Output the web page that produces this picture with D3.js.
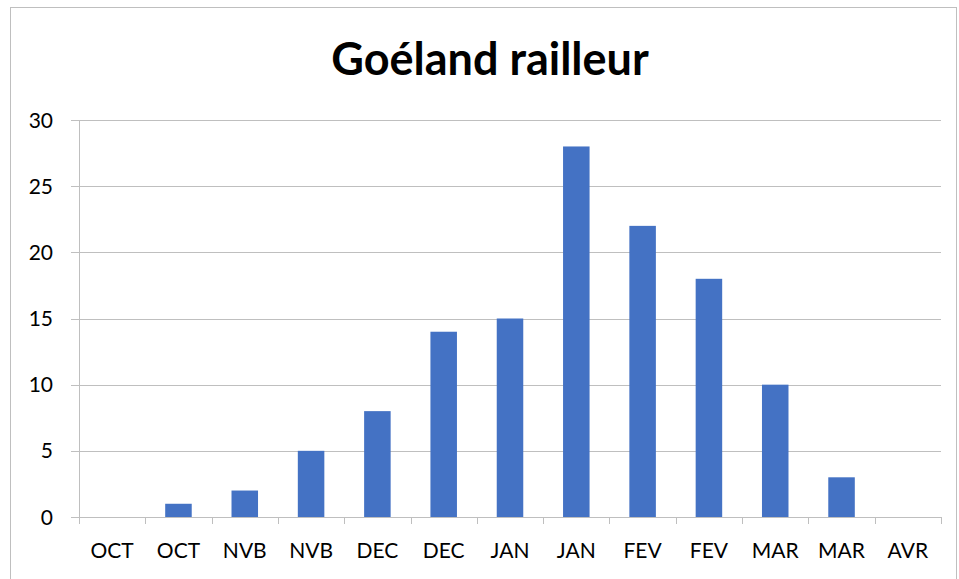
<!DOCTYPE html>
<html><head><meta charset="utf-8">
<script src="https://cdn.jsdelivr.net/npm/d3@7"></script>
<style>body{margin:0;background:#fff}svg{display:block}</style>
</head><body>
<script>
const categories = ["OCT","OCT","NVB","NVB","DEC","DEC","JAN","JAN","FEV","FEV","MAR","MAR","AVR"];
const values = [0,1,2,5,8,14,15,28,22,18,10,3,0];
const yTicks = [0,5,10,15,20,25,30];
const title = "Goéland railleur";

const W = 959, H = 579;
const m = {left:79, right:941, top:120, bottom:517};
const svg = d3.select("body").append("svg").attr("width",W).attr("height",H);
svg.append("rect").attr("x",10.5).attr("y",7.5).attr("width",946).attr("height",580)
  .attr("fill","#fff").attr("stroke","#bfbfbf").attr("stroke-width",1);

const x = d3.scaleBand().domain(d3.range(categories.length)).range([m.left,m.right]).paddingInner(0.6).paddingOuter(0.3);
const xt = d3.scaleBand().domain(d3.range(categories.length)).range([m.left,m.right]);
const y = d3.scaleLinear().domain([0,30]).range([m.bottom,m.top]);

const font = "Lato, 'Open Sans', sans-serif";
// gridlines
svg.append("g").selectAll("line").data(yTicks).join("line")
  .attr("x1",m.left-8).attr("x2",m.right).attr("y1",d=>Math.round(y(d))+0.5).attr("y2",d=>Math.round(y(d))+0.5)
  .attr("stroke","#bfbfbf").attr("stroke-width",1);
// y axis line
svg.append("line").attr("x1",m.left+0.5).attr("x2",m.left+0.5).attr("y1",m.top).attr("y2",m.bottom)
  .attr("stroke","#bfbfbf");
// y labels
svg.append("g").selectAll("text").data(yTicks).join("text")
  .attr("x",53).attr("y",d=>y(d)).attr("dy","0.36em").attr("text-anchor","end")
  .attr("font-family",font).attr("font-size",21).attr("fill","#000").text(d=>d);
// x ticks
const xTickPos = d3.range(categories.length+1).map(i=>m.left + i*xt.step());
svg.append("g").selectAll("line").data(xTickPos).join("line")
  .attr("x1",d=>Math.round(d)+0.5).attr("x2",d=>Math.round(d)+0.5).attr("y1",m.bottom).attr("y2",m.bottom+7)
  .attr("stroke","#bfbfbf");
// bars
svg.append("g").selectAll("rect").data(values).join("rect")
  .attr("x",(d,i)=>x(i)).attr("width",x.bandwidth())
  .attr("y",d=>y(d)).attr("height",d=>y(0)-y(d)).attr("fill","#4472C4");
// x labels
svg.append("g").selectAll("text").data(categories).join("text")
  .attr("x",(d,i)=>xt(i)+xt.bandwidth()/2).attr("y",558).attr("text-anchor","middle")
  .attr("font-family",font).attr("font-size",21).attr("fill","#000").text(d=>d);
// title
svg.append("text").attr("x",490).attr("y",75).attr("text-anchor","middle")
  .attr("font-family",font).attr("font-weight","bold").attr("font-size",45).attr("fill","#000").text(title);
</script>
</body></html>
